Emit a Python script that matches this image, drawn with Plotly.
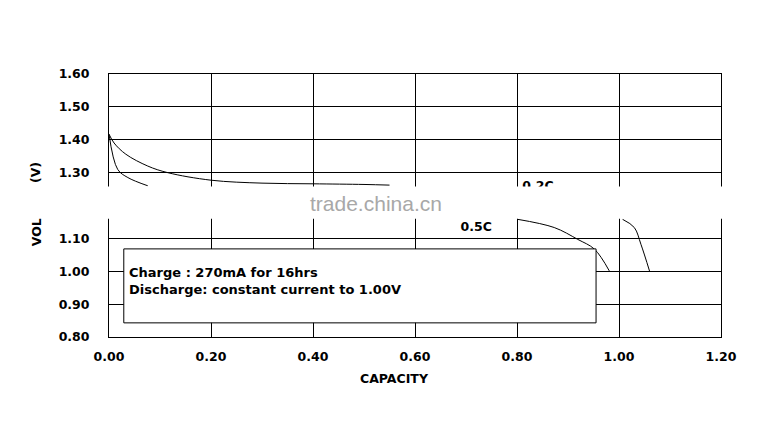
import plotly.graph_objects as go

# 0.2C discharge curve (visible parts; middle is hidden by the watermark band)
c02_x = [0.0, 0.01, 0.033, 0.076, 0.115, 0.20, 0.30, 0.40, 0.50, 0.55, None,
         1.007, 1.030, 1.043, 1.06]
c02_y = [1.417, 1.39, 1.356, 1.32, 1.30, 1.277, 1.268, 1.266, 1.264, 1.262, None,
         1.158, 1.133, 1.082, 1.00]

# 0.5C discharge curve
c05_x = [0.0, 0.017, 0.037, 0.076, None, 0.801, 0.873, 0.919, 0.952, 0.981]
c05_y = [1.417, 1.31, 1.285, 1.26, None, 1.158, 1.133, 1.097, 1.067, 1.001]

x_ticks = [0.0, 0.2, 0.4, 0.6, 0.8, 1.0, 1.2]
y_ticks = [0.8, 0.9, 1.0, 1.1, 1.2, 1.3, 1.4, 1.5, 1.6]

box_lines = ["Charge : 270mA for 16hrs", "Discharge: constant current to 1.00V"]

font_b = dict(family="DejaVu Sans", size=12.5, color="black", weight="bold")

fig = go.Figure()
fig.add_trace(go.Scatter(x=c02_x, y=c02_y, mode="lines", line_shape="spline",
                         line=dict(color="black", width=1), hoverinfo="skip"))
fig.add_trace(go.Scatter(x=c05_x, y=c05_y, mode="lines", line_shape="spline",
                         line=dict(color="black", width=1), hoverinfo="skip"))
fig.add_trace(go.Scatter(x=[0.72, 0.841], y=[1.132, 1.257], mode="text",
                         text=["0.5C", "0.2C"], textfont=font_b, hoverinfo="skip"))

# condition box
fig.add_shape(type="rect", xref="x", yref="y", x0=0.029, x1=0.955, y0=0.843, y1=1.068,
              fillcolor="white", line=dict(color="black", width=1), layer="above")
for i, t in enumerate(box_lines):
    fig.add_annotation(x=0.035, y=[0.995, 0.943][i], xref="x", yref="y", text=t,
                       showarrow=False, xanchor="left", yanchor="middle",
                       font=dict(font_b, size=13))

# white watermark band
fig.add_shape(type="rect", xref="paper", yref="paper", x0=-0.2, x1=1.2,
              y0=(1.16 - 0.8) / 0.8, y1=(1.258 - 0.8) / 0.8,
              fillcolor="white", line=dict(width=0), layer="above")
fig.add_annotation(x=0.524, y=1.205, xref="x", yref="y", text="trade.china.cn",
                   showarrow=False, xanchor="center", yanchor="middle",
                   font=dict(family="Liberation Sans", size=21, color="#a8a8a8"))

fig.add_annotation(x=0.466, y=-0.156, xref="paper", yref="paper", text="CAPACITY",
                   showarrow=False, xanchor="center", yanchor="middle", font=font_b)
fig.add_annotation(x=-0.119, y=0.399, xref="paper", yref="paper", text="VOL",
                   showarrow=False, textangle=-90, xanchor="center", yanchor="middle",
                   font=font_b)
fig.add_annotation(x=-0.119, y=0.624, xref="paper", yref="paper", text="(V)",
                   showarrow=False, textangle=-90, xanchor="center", yanchor="middle",
                   font=font_b)

axis_common = dict(showgrid=True, gridcolor="black", gridwidth=1, showline=True,
                   linecolor="black", linewidth=1, mirror=True, zeroline=False,
                   tickfont=font_b, tickformat=".2f", ticks="")
fig.update_layout(
    width=779, height=423, showlegend=False,
    paper_bgcolor="white", plot_bgcolor="white",
    margin=dict(l=101, r=66, t=66, b=94),
    xaxis=dict(axis_common, range=[0, 1.2], tickvals=x_ticks, ticklabelstandoff=8),
    yaxis=dict(axis_common, range=[0.8, 1.6], tickvals=y_ticks, ticklabelstandoff=16),
)
fig.write_html("out.html")
